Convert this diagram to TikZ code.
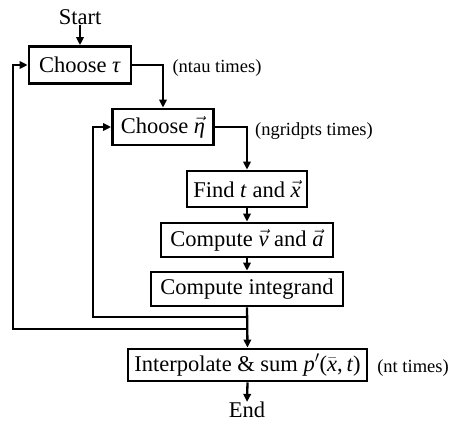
\RequirePackage{fix-cm}
\documentclass[tikz,border=0pt]{standalone}
\usepackage{fontspec}
\setmainfont{Liberation Serif}
\usetikzlibrary{arrows.meta}
\newcommand{\ita}[1]{\textit{#1}}
\begin{document}
\begin{tikzpicture}[x=1pt,y=-1pt,
  every node/.style={font=\fontsize{22.5}{26}\selectfont, inner sep=0pt},
  stepbox/.style={draw, line width=2.8pt, rectangle, align=center},
  note/.style={font=\fontsize{18.5}{22}\selectfont},
  flow/.style={line width=2.3pt},
  arr/.style={flow, -{Triangle[length=8pt,width=7.5pt]}}]
\useasboundingbox (0,0) rectangle (455,427);

% terminal labels
\node (start) at (80,17) {Start};
\node (end) at (247,410) {End};

% process boxes
\node[stepbox, minimum width=102pt, minimum height=37pt] (c1) at (80,65) {Choose \ita{τ}};
\node[stepbox, minimum width=101pt, minimum height=36pt] (c2) at (163,127) {Choose $\vec{\ita{η}}$};
\node[stepbox, minimum width=120pt, minimum height=36pt] (f) at (247,189) {Find \ita{t} and $\vec{\ita{x}}$};
\node[stepbox, minimum width=172pt, minimum height=34pt] (cv) at (247,240) {Compute $\vec{\ita{v}}$ and $\vec{\ita{a}}$};
\node[stepbox, minimum width=192pt, minimum height=34pt] (ci) at (247,289) {Compute integrand};
\node[stepbox, minimum width=239pt, minimum height=32pt] (ip) at (247.5,365) {Interpolate \& sum \ita{p}$'$($\bar{\ita{x}}$,\,\ita{t})};

% loop counts
\node[note] (n1) at (217,68) {(ntau times)};
\node[note] (n2) at (314,131) {(ngridpts times)};
\node[note] (n3) at (413,368) {(nt times)};

% main flow
\draw[arr] (start) -- (c1.north);
\draw[arr] (c1.east) -| (c2.north);
\draw[arr] (c2.east) -| (f.north);
\draw[arr] (f.south) -- (cv.north);
\draw[arr] (cv.south) -- (ci.north);
\draw[arr] (ci.south) -- (ip.north);
\draw[arr] (ip.south) -- (end.north);

% loop-back paths
\coordinate (j2) at (247,317);
\coordinate (k2) at (93,317);
\coordinate (j1) at (247,329);
\coordinate (k1) at (13,329);
\draw[arr] (j2) -- (k2) |- (c2.west);
\draw[arr] (j1) -- (k1) |- (c1.west);
\end{tikzpicture}
\end{document}
